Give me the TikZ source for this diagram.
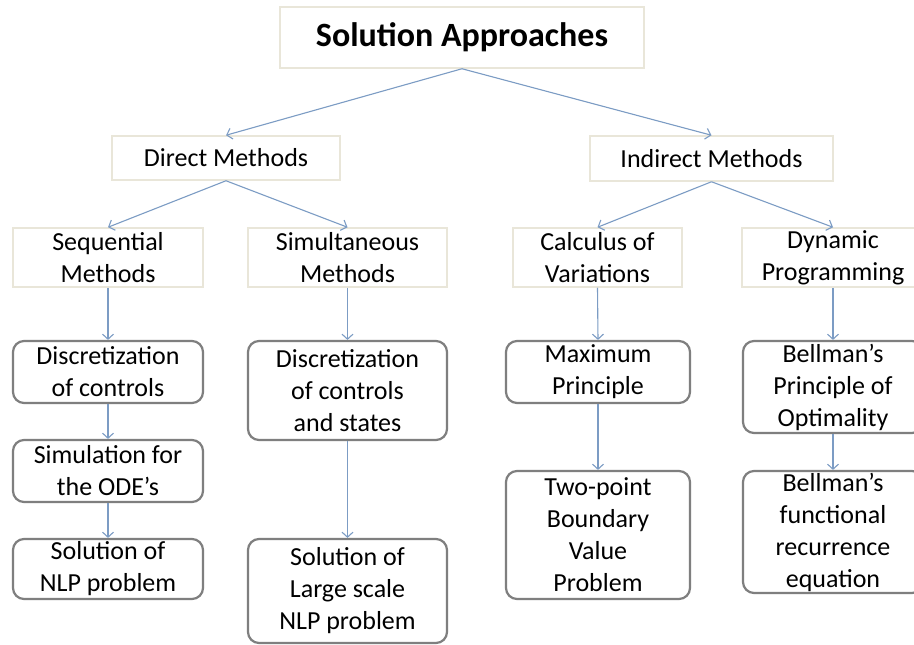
\documentclass[tikz,border=0pt]{standalone}
\usepackage{fontspec}
\setmainfont{Carlito}
\usetikzlibrary{arrows.meta}
\definecolor{arrowc}{HTML}{7C9CC4}
\definecolor{plainc}{HTML}{E9E6D9}
\definecolor{roundc}{HTML}{7F7F7F}
\tikzset{
  plainbox/.style={draw=plainc, line width=1.5pt, fill=white, inner sep=0pt, align=center,
    font=\fontsize{26}{32}\selectfont, text=black},
  roundbox/.style={draw=roundc, line width=2.2pt, rounded corners=11pt, fill=white, inner sep=0pt,
    align=center, font=\fontsize{26}{32}\selectfont, text=black},
  conn/.style={draw=arrowc, line width=1.1pt, -{Straight Barb[length=5pt,width=11pt,line width=1.1pt]}}
}
\begin{document}
\begin{tikzpicture}[x=1pt,y=-1pt]
\clip (0,0) rectangle (914,645);
\useasboundingbox (0,0) rectangle (914,645);
\fill[white] (0,0) rectangle (914,645);
% top level
\node[plainbox, minimum width=364pt, minimum height=61pt, font=\fontsize{34}{40}\selectfont\bfseries] (top) at (462,37.5) {Solution Approaches};
\node[plainbox, minimum width=228pt, minimum height=44pt] (direct) at (226,158) {Direct Methods};
\node[plainbox, minimum width=243pt, minimum height=45pt] (indirect) at (711.5,158.5) {Indirect Methods};
% second level
\node[plainbox, minimum width=190pt, minimum height=59pt] (seq) at (108,257.5) {Sequential\\Methods};
\node[plainbox, minimum width=199pt, minimum height=59pt] (sim) at (347.5,257.5) {Simultaneous\\Methods};
\node[plainbox, minimum width=169pt, minimum height=59pt] (calc) at (597.5,257.5) {Calculus of\\Variations};
\node[plainbox, minimum width=182pt, minimum height=59pt] (dyn) at (833,257.5) {Dynamic\\Programming};
% third level
\node[roundbox, minimum width=190pt, minimum height=62pt] (d1) at (108,372) {Discretization\\of controls};
\node[roundbox, minimum width=190pt, minimum height=62pt] (d2) at (108,471) {Simulation for\\the ODE’s};
\node[roundbox, minimum width=190pt, minimum height=60pt] (d3) at (108,569) {Solution of\\NLP problem};
\node[roundbox, minimum width=199pt, minimum height=99pt] (s1) at (347.5,390.5) {Discretization\\of controls\\and states};
\node[roundbox, minimum width=199pt, minimum height=104pt] (s2) at (347.5,591) {Solution of\\Large scale\\NLP problem};
\node[roundbox, minimum width=184pt, minimum height=62pt] (m1) at (598,372) {Maximum\\Principle};
\node[roundbox, minimum width=184pt, minimum height=128pt] (m2) at (598,535) {Two-point\\Boundary\\Value\\Problem};
\node[roundbox, minimum width=180pt, minimum height=92pt] (b1) at (833,387) {Bellman’s\\Principle of\\Optimality};
\node[roundbox, minimum width=180pt, minimum height=122pt] (b2) at (833,532) {Bellman’s\\functional\\recurrence\\equation};
% connectors
\draw[conn] (top.south) -- (direct.north);
\draw[conn] (top.south) -- (indirect.north);
\draw[conn] (direct.south) -- (seq.north);
\draw[conn] (direct.south) -- (sim.north);
\draw[conn] (indirect.south) -- (calc.north);
\draw[conn] (indirect.south) -- (dyn.north);
\draw[conn] (seq.south) -- (d1.north);
\draw[conn] (d1.south) -- (d2.north);
\draw[conn] (d2.south) -- (d3.north);
\draw[conn] (sim.south) -- (s1.north);
\draw[conn] (s1.south) -- (s2.north);
\draw[conn] (calc.south) -- (m1.north);
\draw[conn] (m1.south) -- (m2.north);
\draw[conn] (dyn.south) -- (b1.north);
\draw[conn] (b1.south) -- (b2.north);
\end{tikzpicture}
\end{document}
